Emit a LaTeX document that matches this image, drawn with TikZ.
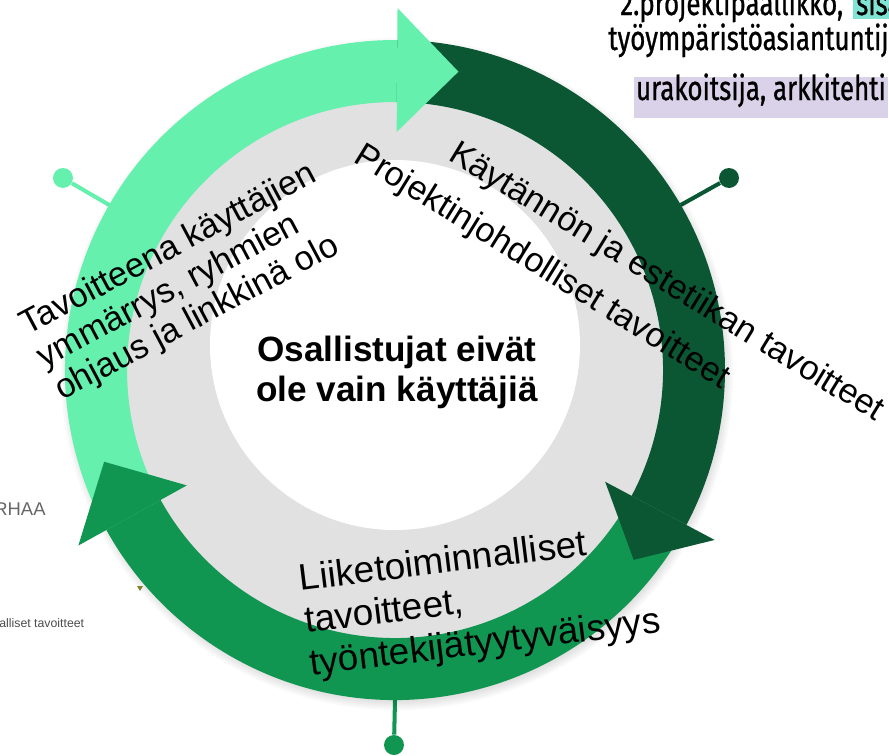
\documentclass[tikz,border=0pt]{standalone}
\usepackage{fontspec}
\setmainfont{Liberation Sans}
\newfontfamily\condfont[FakeStretch=0.76, FakeBold=0.8]{Fira Sans}
\usetikzlibrary{positioning}
\definecolor{ringlight}{RGB}{102,240,174}
\definecolor{ringdark}{RGB}{11,87,52}
\definecolor{ringmid}{RGB}{17,150,82}
\definecolor{ringgray}{RGB}{225,225,225}
\definecolor{hlcyan}{RGB}{128,227,212}
\definecolor{hllilac}{RGB}{217,210,233}
\definecolor{markolive}{RGB}{130,130,50}

\begin{document}
\begin{tikzpicture}[x=0.02cm, y=0.02cm,
    pindot/.style={circle, inner sep=0pt, minimum size=0.4cm},
    pinline/.style={line width=2.3pt},
    cyctext/.style={font=\fontsize{19.5pt}{21pt}\selectfont, align=left, inner sep=0pt},
    slidetext/.style={font=\condfont\fontsize{19.4pt}{21pt}\selectfont, inner sep=0pt}]
    \clip (-395,-385) rectangle (494,370);
    % pins
    \node[pindot, fill=ringlight] (pinl) at (-332,192) {};
    \node[pindot, fill=ringdark] (pind) at (334,192) {};
    \node[pindot, fill=ringmid] (pinm) at (-1,-375) {};
    \coordinate (ringl) at (150:330);
    \coordinate (ringd) at (30:330);
    \coordinate (ringm) at (-90:330);
    \draw[pinline, ringlight] (pinl) -- (ringl);
    \draw[pinline, ringdark] (pind) -- (ringd);
    \draw[pinline, ringmid] (pinm) -- (ringm);
    % ring
    \foreach \i in {0,...,7}
        \fill[black, opacity=0.025] (2,-4) circle[radius=322+\i*2];
    \fill[ringgray] (0,0) circle[radius=268];
    \fill[white] (0,25) circle[radius=185];
    \foreach \col/\a/\b in {ringlight/209/89.6, ringdark/89.6/-28, ringmid/-28/-151}
        \fill[\col] (\a:330) arc[start angle=\a, end angle=\b, radius=330]
            -- (\b:268) arc[start angle=\b, end angle=\a, radius=268] -- cycle;
    \foreach \col/\b/\t in {ringlight/89.6/78, ringdark/-28/-38.5, ringmid/-151/-162.5}
        \fill[\col] (\b:238) -- (\t:305) -- (\b:362) -- cycle;
    % texts
    \node[font=\bfseries\fontsize{20pt}{22.7pt}\selectfont, align=center] (core) at (2,-2)
        {Osallistujat eivät\\ole vain käyttäjiä};
    \node[cyctext, rotate=28] (goalusers) at (-209,87)
        {Tavoitteena käyttäjien\\ymmärrys, ryhmien\\ohjaus ja linkkinä olo};
    \node[cyctext, rotate=-31.7] (goalproj) at (147,102) {Projektinjohdolliset tavoitteet};
    \node[cyctext, rotate=-31.5] (goalaesth) at (271,87) {Käytännön ja estetiikan tavoitteet};
    \node[cyctext, rotate=7, font=\fontsize{21pt}{24.3pt}\selectfont] (goalbiz) at (85,-232)
        {Liiketoiminnalliset\\tavoitteet,\\työntekijätyytyväisyys};
    % slide leftovers
    \node[slidetext, anchor=base west] (role1) at (225,355) {2.projektipäällikkö,};
    \node[slidetext, anchor=base west, fill=hlcyan, inner sep=2pt] (role1hl)
        at ([xshift=5pt]role1.base east) {sisä};
    \node[slidetext, anchor=base west] (role2) at (213,320) {työympäristöasiantuntija};
    \node[slidetext, anchor=base west, fill=hllilac, inner xsep=1pt,
        text height=13pt, text depth=10pt] (role3) at (239,270) {urakoitsija, arkkitehti\hspace{10pt}};
    \node[anchor=base west, text=black!60, font=\fontsize{10.5pt}{12pt}\selectfont, inner sep=0pt]
        (leftcut) at (-401,-145) {RHAA};
    \node[anchor=base west, text=black!70, font=\fontsize{7pt}{8pt}\selectfont, inner sep=0pt]
        (leftgoal) at (-396,-257) {alliset tavoitteet};
    \fill[markolive] (-258,-216) -- (-252,-216) -- (-255,-221) -- cycle;
\end{tikzpicture}
\end{document}
